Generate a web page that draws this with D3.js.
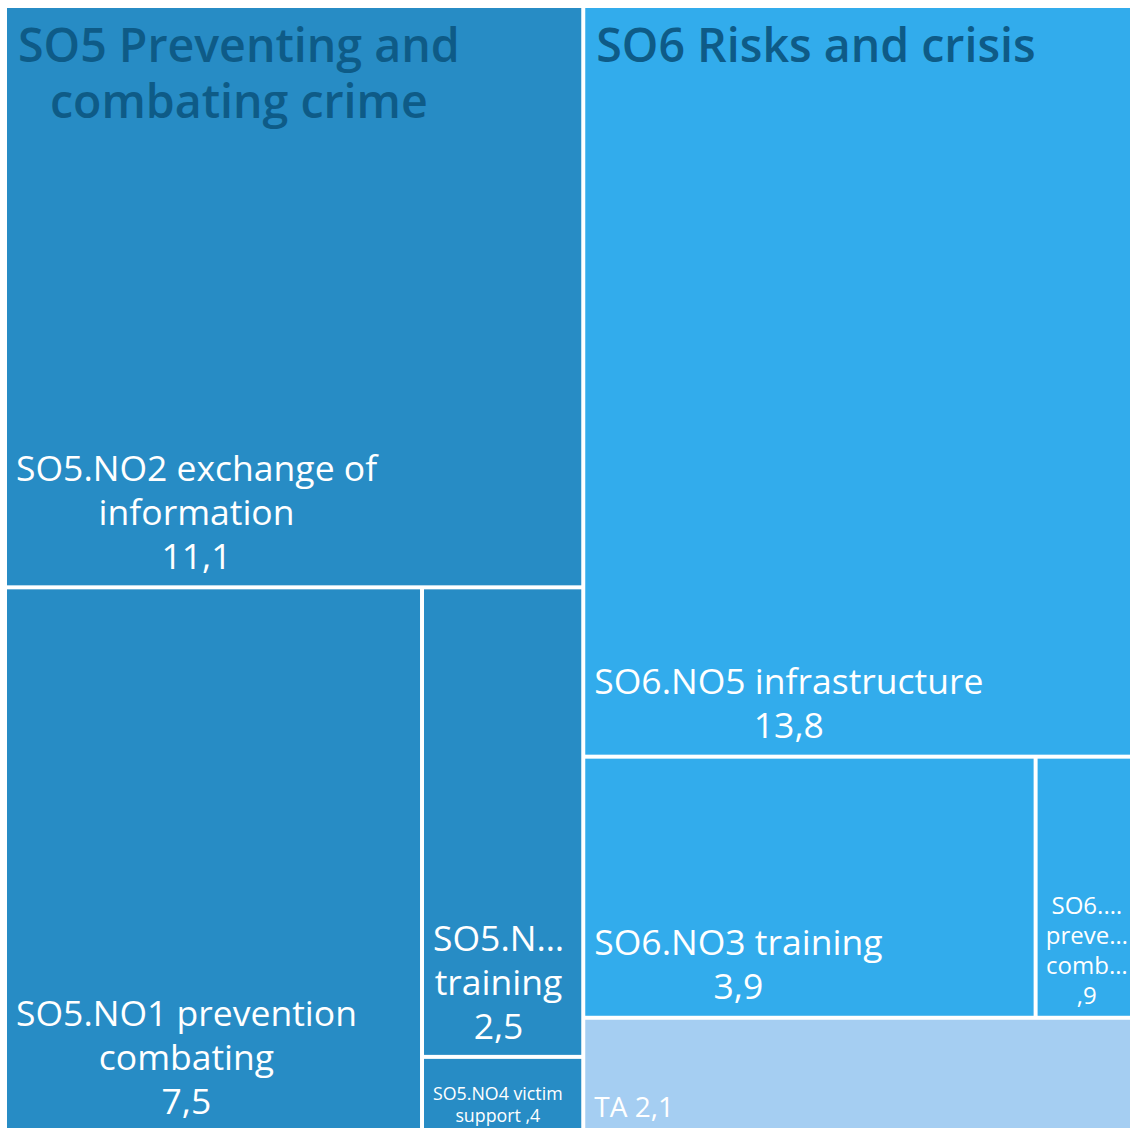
<!DOCTYPE html>
<html><head><meta charset="utf-8">
<script src="https://cdn.jsdelivr.net/npm/d3@7"></script>
<style>html,body{margin:0;padding:0;overflow:hidden;background:#fff}</style>
</head><body><svg id="c" width="1130" height="1128"></svg>
<script>
// ---- data ----
const groupNames = ["SO5", "SO6", "TA"];
const groupTitles = [["SO5 Preventing and", "combating crime"], ["SO6 Risks and crisis"], []];
const leafNames = ["SO5.NO2 exchange of information", "SO5.NO1 prevention combating", "SO5.NO3 training",
  "SO5.NO4 victim support", "SO6.NO5 infrastructure", "SO6.NO3 training", "SO6.NO prevention combating", "TA"];
const leafGroups = ["SO5", "SO5", "SO5", "SO5", "SO6", "SO6", "SO6", "TA"];
const leafValues = [11.1, 7.5, 2.5, 0.4, 13.8, 3.9, 0.9, 2.1];
// displayed label lines ({v} = value label)
const leafLabels = [
  ["SO5.NO2 exchange of", "information", "{v}"],
  ["SO5.NO1 prevention", "combating", "{v}"],
  ["SO5.N…", "training", "{v}"],
  ["SO5.NO4 victim", "support {v}"],
  ["SO6.NO5 infrastructure", "{v}"],
  ["SO6.NO3 training", "{v}"],
  ["SO6.…", "preve…", "comb…", "{v}"],
  ["TA {v}"]
];

// ---- style ----
const groupColors = {SO5: "#278cc5", SO6: "#32acec", TA: "#a5cef2"};
const titleColor = "#0e5b87";
const FONT = "'Open Sans', 'DejaVu Sans', sans-serif";

const fmt = v => v.toFixed(1).replace(".", ",").replace(/^0/, "");

const root = d3.hierarchy({
  name: "root",
  children: groupNames.map(g => ({
    name: g,
    children: leafNames.map((n, i) => ({name: n, value: leafValues[i], idx: i, group: leafGroups[i]}))
      .filter(d => d.group === g)
  }))
}).sum(d => d.children ? 0 : d.value);

const X0 = 7, Y0 = 8, W = 1131, H = 1122;
d3.treemap().tile(d3.treemapSquarify.ratio(1)).size([W, H]).paddingInner(4).round(false)(root);

const svg = d3.select("#c");
const g = svg.append("g").attr("transform", `translate(${X0},${Y0})`);

const leaves = root.leaves();
g.selectAll("rect.leaf").data(leaves).join("rect").attr("class", "leaf")
  .attr("x", d => d.x0).attr("y", d => d.y0)
  .attr("width", d => d.x1 - d.x0).attr("height", d => d.y1 - d.y0)
  .attr("fill", d => groupColors[d.data.group]);

// leaf labels
leaves.forEach(d => {
  const w = d.x1 - d.x0, h = d.y1 - d.y0;
  let fs = 35.5, off = 0.46;
  if (h < 80) { fs = 17.8; off = 0.45; }
  else if (w < 120) { fs = 24; off = 0.5; }
  else if (h < 130) { fs = 28; off = 0.45; }
  const lh = fs * 1.24;
  const lines = leafLabels[d.data.idx].map(s => s.replace("{v}", fmt(d.data.value)));
  const lab = g.append("g");
  const texts = lines.map(s => lab.append("text").text(s)
    .attr("font-family", FONT).attr("font-size", fs).attr("fill", "#fff"));
  let bw = d3.max(texts, t => t.node().getComputedTextLength());
  bw = Math.min(bw, w - 20);
  const left = d.x0 + 9;
  const lastBase = d.y1 - fs * off;
  texts.forEach((t, i) => {
    t.attr("text-anchor", "middle").attr("x", left + bw / 2)
      .attr("y", lastBase - (lines.length - 1 - i) * lh);
  });
});

// group titles
root.children.forEach(grp => {
  const lines = groupTitles[groupNames.indexOf(grp.data.name)];
  if (!lines.length) return;
  const lab = g.append("g");
  const texts = lines.map(s => lab.append("text").text(s)
    .attr("font-family", FONT).attr("font-size", 46.5).attr("font-weight", 600).attr("fill", titleColor));
  const bw = d3.max(texts, t => t.node().getComputedTextLength());
  const left = grp.x0 + 11;
  texts.forEach((t, i) => {
    t.attr("text-anchor", "middle").attr("x", left + bw / 2).attr("y", grp.y0 + 54 + i * 56);
  });
});
</script></body></html>
